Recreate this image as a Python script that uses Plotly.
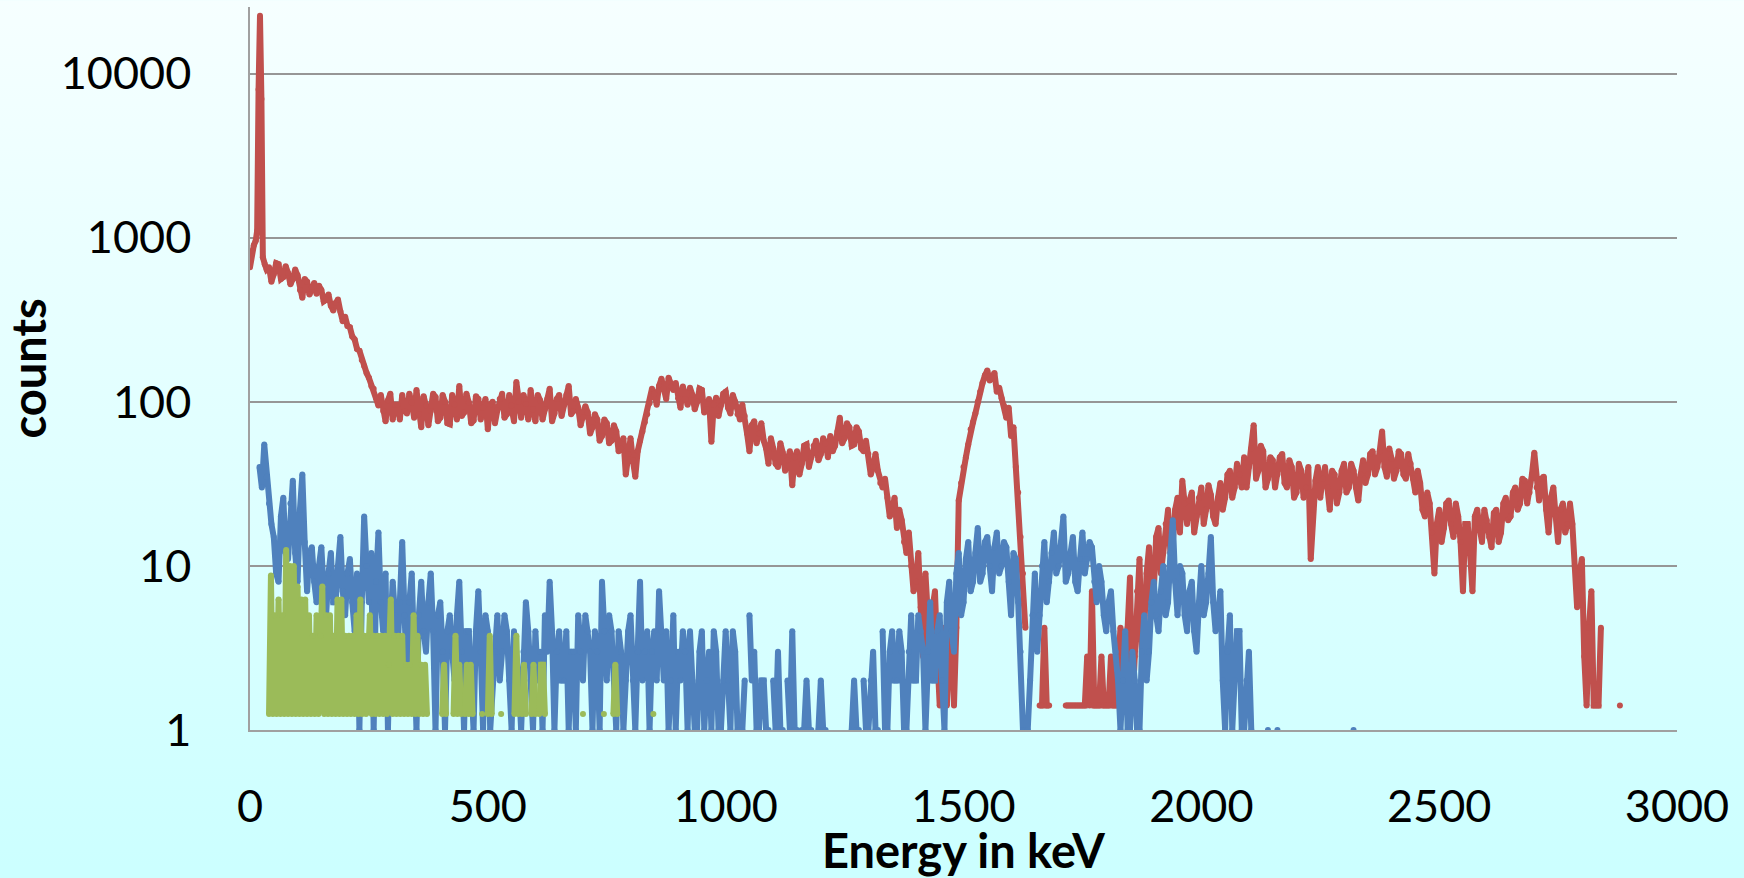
import base64
import plotly.graph_objects as go

_ = None

# ---------------- data ----------------
# red spectrum: fine channels around the low-energy peak, then 5 keV channels 40..2880 keV
red_low_keV = [0, 4, 8, 12, 15, 18, 21, 24, 27, 31, 35]
red_low_counts = [660, 830, 900, 960, 1100, 8000, 22500, 7000, 760, 690, 640]

red_grid_start, red_grid_stop, red_grid_step = 40, 2880, 5
# counts in the channels at 40, 50, 60 ... 2880 keV
red_counts_even = [
    660, 600, 690, 575, 610, 560, 590, 430, 540, 500,      # 40-130
    455, 480, 420, 385, 400, 355, 330, 285, 240, 205,      # 140-230
    165, 140, 120, 95, 88, 102, 78, 96, 110, 85,           # 240-330
    99, 118, 70, 95, 88, 107, 80, 100, 73, 96,             # 340-430
    125, 86, 99, 77, 104, 92, 68, 100, 89, 112,            # 440-530
    84, 95, 132, 80, 97, 118, 76, 102, 90, 120,            # 540-630
    85, 110, 96, 125, 88, 92, 80, 86, 70, 78,              # 640-730
    62, 74, 58, 66, 52, 36, 60, 35, 58, 75,                # 740-830
    98, 112, 125, 120, 140, 118, 105, 124, 96, 110,        # 840-930
    100, 118, 90, 57, 106, 95, 115, 85, 100, 78,           # 940-1030
    82, 50, 76, 64, 58, 42, 52, 40, 49, 44,                # 1040-1130
    31, 50, 42, 55, 46, 58, 48, 56, 62, 54,                # 1140-1230
    80, 60, 70, 55, 66, 50, 48, 40, 38, 30,                # 1240-1330
    26, 22, 17, 19, 12, 10, 8, 5.6, 9, 2.8,                # 1340-1430
    7, 1.41, 4.2, 2.8, 1.41, 25, 40, 55, 75, 100,          # 1440-1530
    130, 155, 140, 115, 105, 80, 62, 40, 15, 4.2,          # 1540-1630
    _, _, 1.41, 4.2, 1.41, _, _, _, 1.41, 1.41,            # 1640-1730
    1.41, 1.41, 2.8, 7, 1.41, 2.8, 1.41, 2.8, 1.41, 4.2,   # 1740-1830
    1.41, 8.5, 2.8, 11, 4.2, 13, 7, 17, 12, 22,            # 1840-1930
    14, 26, 33, 18, 28, 20, 30, 22, 27, 18,                # 1940-2030
    32, 26, 38, 30, 36, 46, 40, 72, 38, 50,                # 2040-2130
    34, 44, 36, 48, 30, 40, 28, 38, 30, 11,                # 2140-2230
    33, 26, 40, 22, 36, 28, 42, 30, 38, 25,                # 2240-2330
    44, 36, 50, 40, 66, 35, 45, 38, 48, 34,                # 2340-2430
    42, 28, 32, 20, 24, 9, 22, 17, 25, 15,                 # 2440-2530
    20, 7, 18, 7, 22, 14, 19, 13, 22, 16,                  # 2540-2630
    26, 20, 30, 24, 33, 28, 49, 25, 35, 16,                # 2640-2730
    30, 14, 24, 18, 18, 5.6, 11, 1.41, 7, 1.41,            # 2740-2830
    4.2, _, _, _, 1.41,                                    # 2840-2880
]
# counts in the channels at 45, 55, 65 ... 2875 keV
red_counts_odd = [
    540, 700, 560, 670, 520, 640, 480, 560, 450, 530,      # 45-135
    510, 410, 450, 360, 420, 310, 290, 250, 210, 180,      # 145-235
    150, 125, 105, 110, 76, 112, 96, 78, 88, 112,          # 245-335
    80, 84, 108, 72, 112, 76, 110, 74, 110, 78,            # 345-435
    82, 112, 74, 108, 78, 104, 96, 74, 104, 80,            # 445-535
    110, 76, 100, 110, 78, 90, 110, 78, 104, 76,           # 545-635
    104, 82, 110, 84, 104, 72, 94, 64, 84, 58,             # 645-735
    78, 56, 72, 50, 60, 48, 44, 50, 66, 84,                # 745-835
    120, 96, 138, 104, 124, 130, 92, 104, 122, 90,         # 845-935
    120, 86, 104, 96, 82, 112, 92, 110, 84, 96,            # 945-1035
    64, 72, 56, 74, 52, 60, 42, 56, 38, 50,                # 1045-1135
    46, 36, 54, 40, 54, 44, 60, 46, 50, 66,                # 1145-1235
    56, 74, 54, 70, 52, 58, 36, 48, 32, 34,                # 1245-1335
    20, 26, 22, 14, 16, 7, 12, 2.8, 4.2, 5.6,              # 1345-1435
    2.8, 2.8, 1.41, 5.6, 4.2, 32, 46, 68, 85, 115,         # 1445-1535
    145, 135, 150, 122, 95, 92, 70, 28, 9, _,              # 1545-1635
    _, _, 1.41, 1.41, _, _, _, 1.41, 1.41, 1.41,           # 1645-1735
    1.41, 1.41, 1.41, 1.41, 1.41, 1.41, 1.41, 1.41, 2.8, 1.41,  # 1745-1835
    4.2, 1.41, 7, 2.8, 9, 5.6, 15, 9, 18, 12,              # 1845-1935
    22, 16, 24, 25, 16, 26, 18, 31, 20, 26,                # 1945-2035
    22, 36, 26, 42, 30, 30, 52, 34, 54, 30,                # 2045-2135
    46, 30, 46, 32, 44, 26, 42, 26, 40, 22,                # 2145-2235
    40, 34, 30, 38, 24, 38, 28, 42, 30, 36,                # 2245-2335
    32, 48, 36, 50, 40, 52, 34, 50, 36, 48,                # 2345-2435
    34, 38, 22, 28, 16, 18, 14, 24, 18, 24,                # 2445-2535
    14, 18, 12, 20, 17, 22, 15, 21, 14, 24,                # 2545-2635
    19, 28, 22, 34, 24, 36, 30, 34, 22, 26,                # 2645-2735
    20, 22, 16, 24, 10, 9, 2.8, 4.2, 1.41, 1.41,           # 2745-2835
    _, _, _, _,                                            # 2845-2875
]

# blue spectrum: 5 keV channels 20..2330 keV
blue_grid_start, blue_grid_stop, blue_grid_step = 20, 2330, 5
# channels at 20, 30, 40 ... 2330 keV
blue_counts_even = [
    40, 55, 24, 15, 8, 26, 11, 33, 8, 36,      # 20-110
    7, 13, 6, 13, 5, 12, 6, 15, 5, 11,         # 120-210
    4, 1, 20, 6, 1, 16, 4, 1, 8, 3,            # 220-310
    14, 2, 9, 1, 8, 3, 9, 1, 6, 1,             # 320-410
    5, 2, 8, 1, 4, 1, 7, 1, 4, 2,              # 420-510
    5, 3, 4, 1, 3, 1, 6, 2, 4, 3,              # 520-610
    5, 8, 1, 4, 2, 1, 3, 5, 2, 4,              # 620-710
    1, 3, 8, 2, 4, 1, 3, 2, 5, 1,              # 720-810
    8, 3, 1, 4, 7, 2, 1, 5, 3, 4,              # 820-910
    1, 2, 1, 4, 2, 1, 3, 1, 4, 1,              # 920-1010
    3, 1, 2, 5, 3, 1, 2, 1, 2, 3,              # 1020-1110
    1, 2, 4, 1, 1, 2, 1, _, 2, 1,              # 1120-1210
    _, _, _, _, _, 2, 1, 2, 1, 3,              # 1220-1310
    1, 4, 1, 4, 2, 3, 1, 5, 2, 4,              # 1320-1410
    1, 6, 2, 5, 1, 8, 3, 12, 6, 14,            # 1420-1510
    8, 17, 9, 15, 7, 16, 10, 13, 5, 11,        # 1520-1610
    3, 1, 2, 9, 5, 14, 8, 16, 10, 20,          # 1620-1710
    9, 15, 7, 16, 11, 13, 6, 8, 4, 7,          # 1720-1810
    3, 1, 4, 1, 2, 1, 5, 3, 8, 4,              # 1820-1910
    10, 6, 19, 5, 9, 4, 8, 3, 10, 6,           # 1920-2010
    15, 4, 7, 1, 5, 2, 4, 1, 3, _,             # 2020-2110
    _, _, 1, _, 1, _, _, _, _, _,              # 2120-2210
    _, _, _, _, _, _, _, _, _, _,              # 2220-2310
    1, _,                                      # 2320-2330
]
# channels at 25, 35, 45 ... 2325 keV
blue_counts_odd = [
    30, 35, 18, 9, 20, 12, 24, 12, 22, 14,     # 25-115
    12, 8, 10, 7, 9, 6, 10, 7, 9, 6,           # 125-215
    9, 6, 10, 12, 8, 6, 9, 4, 5, 6,            # 225-315
    5, 6, 3, 5, 4, 6, 4, 5, 3, 4,              # 325-415
    3, 5, 3, 4, 2, 4, 3, 5, 1, 3,              # 425-515
    2, 5, 2, 4, 2, 3, 4, 1, 2, 1,              # 525-615
    3, 4, 3, 2, 4, 3, 1, 3, 5, 3,              # 625-715
    4, 1, 4, 5, 2, 4, 1, 4, 2, 3,              # 725-815
    2, 4, 3, 2, 4, 4, 2, 1, 2, 3,              # 825-915
    4, 1, 3, 1, 3, 4, 1, 2, 2, 4,              # 925-1015
    1, 1, _, 2, 1, 2, 1, _, 1, 1,              # 1025-1115
    _, 1, 1, _, 1, 1, _, 1, 1, _,              # 1125-1215
    _, _, _, _, 1, 1, _, 1, 2, 1,              # 1225-1315
    _, 1, 3, 2, 4, 1, 3, 2, 5, 3,              # 1325-1415
    3, 2, 4, 2, 6, 4, 9, 5, 11, 7,             # 1425-1515
    12, 8, 14, 10, 13, 9, 14, 8, 12, 6,        # 1525-1615
    1, 1, 5, 3, 10, 6, 12, 9, 14, 8,           # 1625-1715
    12, 8, 11, 9, 14, 8, 10, 5, 6, 4,          # 1725-1815
    2, 2, 1, 3, 1, 3, 2, 6, 5, 7,              # 1825-1915
    5, 12, 8, 10, 5, 7, 4, 6, 5, 9,            # 1925-2015
    6, 5, 2, 3, 1, 4, 1, 2, 1, _,              # 2025-2115
    _, _, _, _, _, _, _, _, _, _,              # 2125-2215
    _, _, _, _, _, _, _, _, _, _,              # 2225-2315
    _,                                         # 2325
]

# green spectrum: 4 keV channels 40..848 keV
green_grid_start, green_grid_stop, green_grid_step = 40, 848, 4
green_counts = [
    1.25, 8.75, 1.25, 5, 1.25, 6.25, 1.25, 5, 1.25, 12.5,        # 40-76
    1.25, 10, 1.25, 10, 1.25, 7.5, 1.25, 6.25, 1.25, 6.25,       # 80-116
    1.25, 5, 1.25, 3.75, 1.25, 5, 1.25, 3.75, 7.5, 1.25,         # 120-156
    5, 1.25, 5, 1.25, 3.75, 1.25, 6.25, 1.25, 6.25, 1.25,        # 160-196
    3.75, 1.25, 3.75, 1.25, 3.75, 1.25, 5, 1.25, 6.25, 1.25,     # 200-236
    3.75, 1.25, 3.75, 5, 1.25, 3.75, 1.25, 3.75, 1.25, 3.75,     # 240-276
    1.25, 3.75, 1.25, 2.5, 6.25, 1.25, 3.75, 1.25, 3.75, 1.25,   # 280-316
    3.75, 1.25, 2.5, 1.25, 2.5, 1.25, 5, 1.25, 3.75, 1.25,       # 320-356
    2.5, 1.25, 2.5, 1.25, _, _, _, _, _, _,                      # 360-396
    _, 1.25, 2.5, 1.25, _, _, _, 1.25, 3.75, 1.25,               # 400-436
    2.5, 1.25, _, 1.25, 2.5, 1.25, 2.5, 1.25, _, _,              # 440-476
    _, _, 1.25, _, _, 1.25, 3.75, 1.25, _, _,                    # 480-516
    _, _, 1.25, _, _, _, _, _, _, 1.25,                          # 520-556
    3.75, 1.25, _, 1.25, 2.5, 1.25, _, _, 1.25, 2.5,             # 560-596
    1.25, _, 1.25, 2.5, 2.5, 1.25, _, _, _, _,                   # 600-636
    _, _, _, _, _, _, _, _, _, _,                                # 640-676
    _, _, _, _, _, 1.25, _, _, _, _,                             # 680-716
    _, _, _, _, _, _, 1.25, _, _, _,                             # 720-756
    _, 1.25, 2.5, 1.25, _, _, _, _, _, _,                        # 760-796
    _, _, _, _, _, _, _, _, _, _,                                # 800-836
    _, _, 1.25,                                                  # 840-848
]

x_ticks = [0, 500, 1000, 1500, 2000, 2500, 3000]
y_ticks = [1, 10, 100, 1000, 10000]
y_tick_text = ["1", "10", "100", "1000", "10000"]


# ---------------- figure ----------------
def interleave(even, odd):
    out = []
    for i, v in enumerate(even):
        out.append(v)
        if i < len(odd):
            out.append(odd[i])
    return out


red_keV = red_low_keV + list(range(red_grid_start, red_grid_stop + 1, red_grid_step))
red_all = red_low_counts + interleave(red_counts_even, red_counts_odd)
blue_keV = list(range(blue_grid_start, blue_grid_stop + 1, blue_grid_step))
blue_all = interleave(blue_counts_even, blue_counts_odd)
green_keV = list(range(green_grid_start, green_grid_stop + 1, green_grid_step))

RED, BLUE, GREEN = "#C0504D", "#4F81BD", "#9BBB59"
LW, MS = 6, 6

fig = go.Figure()
for xs, ys, col in [(red_keV, red_all, RED), (blue_keV, blue_all, BLUE),
                    (green_keV, green_counts, GREEN)]:
    fig.add_trace(go.Scatter(
        x=xs, y=ys, mode="lines+markers", connectgaps=False,
        line=dict(color=col, width=LW), marker=dict(color=col, size=MS),
        hoverinfo="skip"))

W, H = 1744, 878
ML, MR, MT, MB = 250, 67, 7, 139
PW, PH = W - ML - MR, H - MT - MB

svg = (f"<svg xmlns='http://www.w3.org/2000/svg' width='{W}' height='{H}' "
       f"preserveAspectRatio='none' viewBox='0 0 {W} {H}'>"
       "<defs><linearGradient id='g' x1='0' y1='0' x2='0' y2='1'>"
       "<stop offset='0' stop-color='#F6FFFF'/>"
       "<stop offset='1' stop-color='#CCFFFF'/>"
       "</linearGradient></defs>"
       f"<rect x='0' y='0' width='{W}' height='{H}' fill='url(#g)'/></svg>")
src = "data:image/svg+xml;base64," + base64.b64encode(svg.encode()).decode()

FONT = "Lato"
fig.update_layout(
    width=W, height=H,
    margin=dict(l=ML, r=MR, t=MT, b=MB, pad=0),
    paper_bgcolor="#CCFFFF",
    plot_bgcolor="rgba(0,0,0,0)",
    showlegend=False,
    images=[dict(source=src, xref="paper", yref="paper",
                 x=-ML / PW, y=1 + MT / PH, sizex=W / PW, sizey=H / PH,
                 xanchor="left", yanchor="top", sizing="stretch", layer="below")],
    font=dict(family=FONT, color="black"),
)
fig.update_xaxes(
    range=[0, 3000], tickvals=x_ticks, showgrid=False, zeroline=False,
    showline=True, linecolor="#A0A0A0", linewidth=1.5,
    ticks="", tickfont=dict(family=FONT, size=45, color="black"),
    ticklabelstandoff=36,
    title=dict(text="<b>Energy in keV</b>", font=dict(family=FONT, size=47, color="black"),
               standoff=6),
)
fig.update_yaxes(
    type="log", range=[0, 4.406], tickvals=y_ticks, ticktext=y_tick_text,
    showgrid=True, gridcolor="#969696", gridwidth=1.5, zeroline=False,
    showline=True, linecolor="#A0A0A0", linewidth=1.5,
    ticks="", tickfont=dict(family=FONT, size=45, color="black"),
    ticklabelstandoff=48,
    title=dict(text="<b>counts</b>", font=dict(family=FONT, size=47, color="black"),
               standoff=10),
)

fig.write_html("out.html")
